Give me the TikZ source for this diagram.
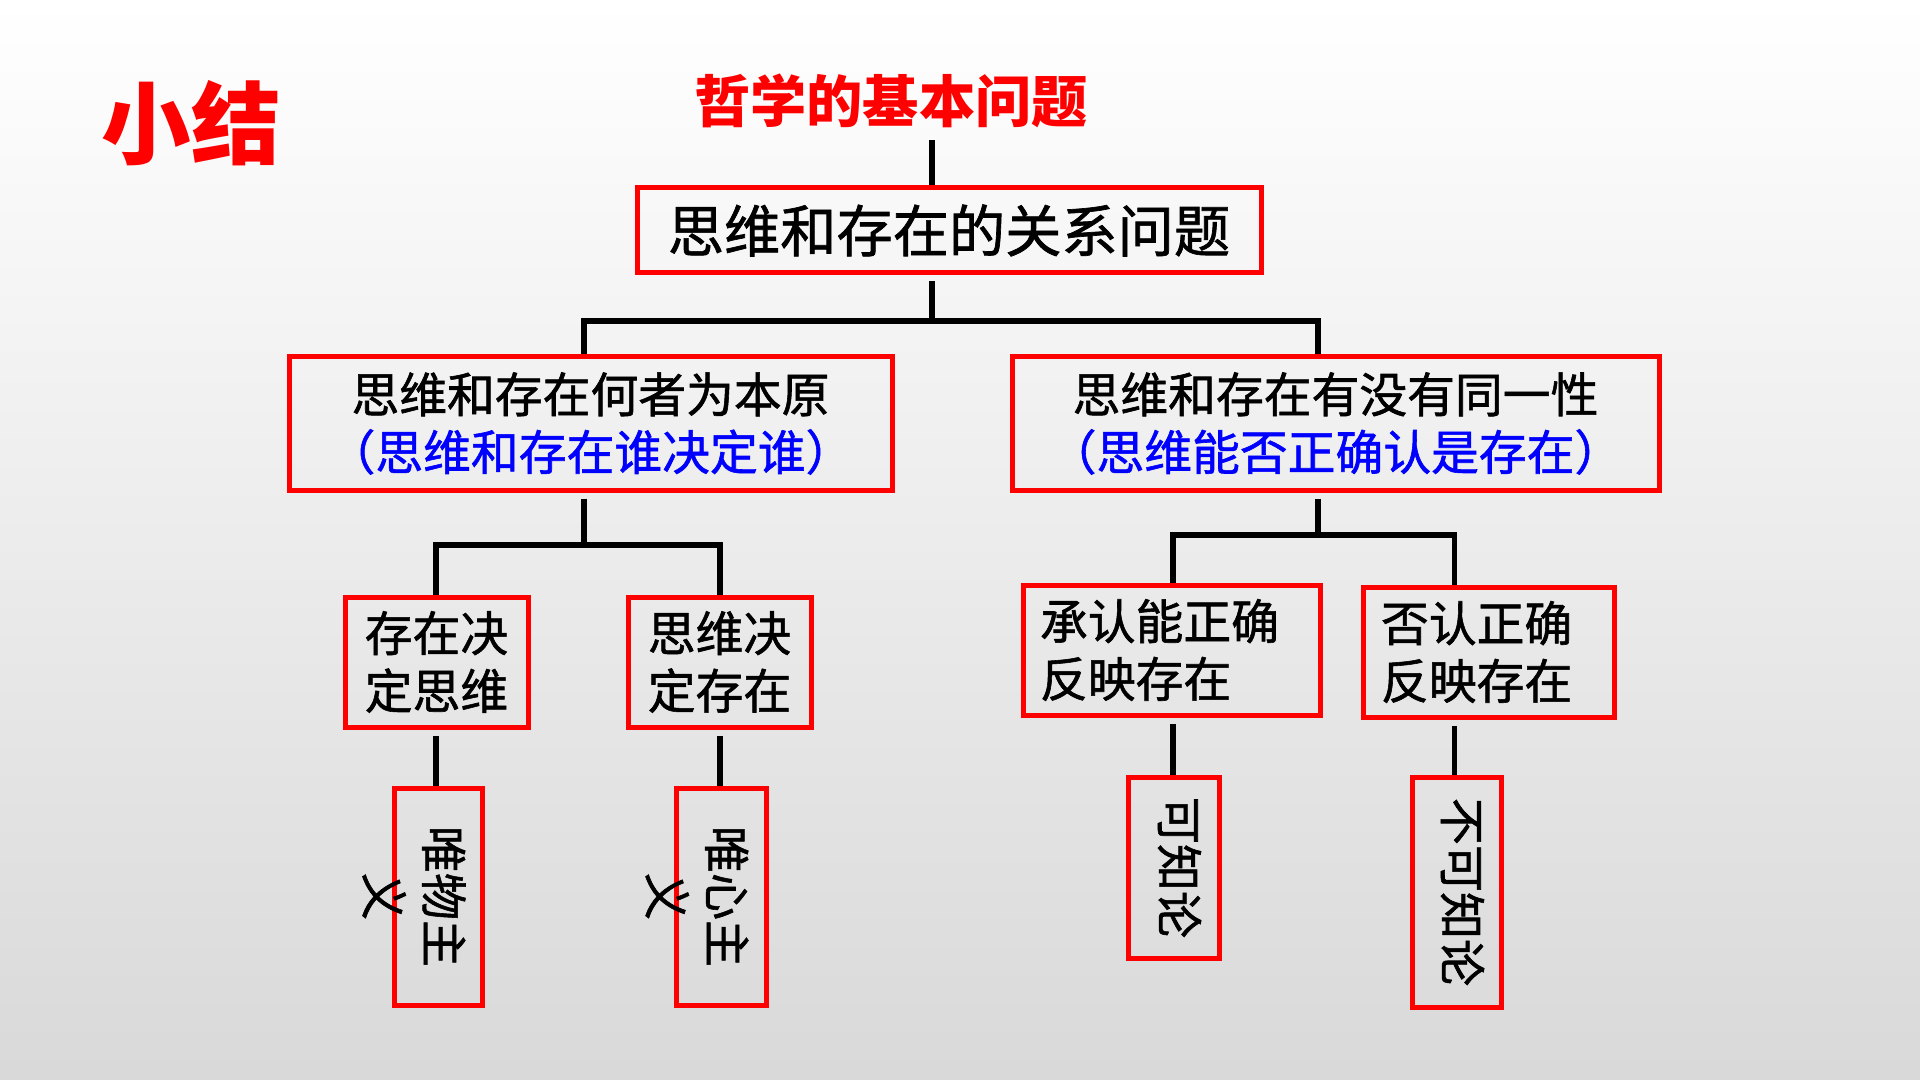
\documentclass[tikz,border=0pt]{standalone}
\usepackage{fontspec}
\setmainfont{Noto Sans CJK SC}
\newfontfamily\heavycjk{Noto Sans CJK SC}[FakeBold=1.2]
\usepackage{xcolor}
\usetikzlibrary{calc}

\begin{document}
\begin{tikzpicture}[
    redbox/.style={draw=red, line width=0.5mm, inner sep=0pt, align=center,
      font=\heavycjk\fontsize{13.6}{16.4}\selectfont},
    link/.style={line width=0.55mm},
    gapline/.style={link, shorten <=0.6mm},
    vtext/.style={rotate=-90, align=center, inner sep=0pt,
      font=\heavycjk\fontsize{13.4}{17}\selectfont}]

    \shade[top color=white, bottom color=black!15] (0,0) rectangle (19.2,-10.8);

    \node[text=red, font=\bfseries\fontsize{25.5}{28}\selectfont] (xj) at (1.91,-1.23) {小结};
    \node[text=red, font=\bfseries\fontsize{16}{19}\selectfont] (title) at (8.91,-1.01) {哲学的基本问题};

    \node[redbox, minimum width=6.24cm, minimum height=0.85cm,
      font=\heavycjk\fontsize{16}{19}\selectfont] (top) at (9.49,-2.305) {思维和存在的关系问题};

    \node[redbox, minimum width=6.03cm, minimum height=1.33cm] (yuan) at (5.905,-4.235)
      {思维和存在何者为本原\\\textcolor{blue}{（思维和存在谁决定谁）}};
    \node[redbox, minimum width=6.47cm, minimum height=1.33cm] (tongyi) at (13.355,-4.235)
      {思维和存在有没有同一性\\\textcolor{blue}{（思维能否正确认是存在）}};

    \node[redbox, minimum width=1.83cm, minimum height=1.30cm] (cz) at (4.365,-6.62) {存在决\\定思维};
    \node[redbox, minimum width=1.83cm, minimum height=1.30cm] (sw) at (7.195,-6.62) {思维决\\定存在};

    \node[redbox, minimum width=2.97cm, minimum height=1.30cm, text width=2.63cm, align=left]
      (cr) at (11.715,-6.50) {承认能正确\\反映存在};
    \node[redbox, minimum width=2.51cm, minimum height=1.30cm, text width=2.15cm, align=left]
      (fr) at (14.885,-6.52) {否认正确\\反映存在};

    \node[redbox, minimum width=0.88cm, minimum height=2.17cm] (wuwu) at (4.38,-8.965) {};
    \node[redbox, minimum width=0.90cm, minimum height=2.17cm] (weixin) at (7.21,-8.965) {};
    \node[redbox, minimum width=0.91cm, minimum height=1.81cm] (kz) at (11.735,-8.675) {};
    \node[redbox, minimum width=0.89cm, minimum height=2.30cm] (bkz) at (14.565,-8.92) {};

    \node[vtext] at ($(wuwu.center)+(-0.24,0)$) {唯物主\\义};
    \node[vtext] at ($(weixin.center)+(-0.24,0)$) {唯心主\\义};
    \node[vtext] at ($(kz.center)+(0.06,0)$) {可知论};
    \node[vtext] at ($(bkz.center)+(0.06,0)$) {不可知论};

    \coordinate (spine) at (9.32,-1.4);
    \coordinate (ba) at (5.84,-3.21);
    \coordinate (bb) at (13.18,-3.21);
    \coordinate (bc) at (4.36,-5.45);
    \coordinate (bd) at (7.20,-5.45);
    \coordinate (be) at (11.73,-5.35);
    \coordinate (bf) at (14.545,-5.35);

    \draw[link] (title.south -| spine) -- (top.north -| spine);
    \draw[gapline] (top.south -| spine) -- (spine |- ba);
    \draw[link] (yuan.north -| ba) -- (ba) -- (bb) -- (tongyi.north -| bb);

    \draw[gapline] (yuan.south -| ba) -- (ba |- bc);
    \draw[link] (cz.north -| bc) -- (bc) -- (bd) -- (sw.north -| bd);
    \draw[gapline] (tongyi.south -| bb) -- (bb |- be);
    \draw[link] (cr.north -| be) -- (be) -- (bf) -- (fr.north -| bf);

    \draw[gapline] (cz.south -| bc) -- (wuwu.north -| bc);
    \draw[gapline] (sw.south -| bd) -- (weixin.north -| bd);
    \draw[gapline] (cr.south -| be) -- (kz.north -| be);
    \draw[gapline] (fr.south -| bf) -- (bkz.north -| bf);

\end{tikzpicture}
\end{document}
